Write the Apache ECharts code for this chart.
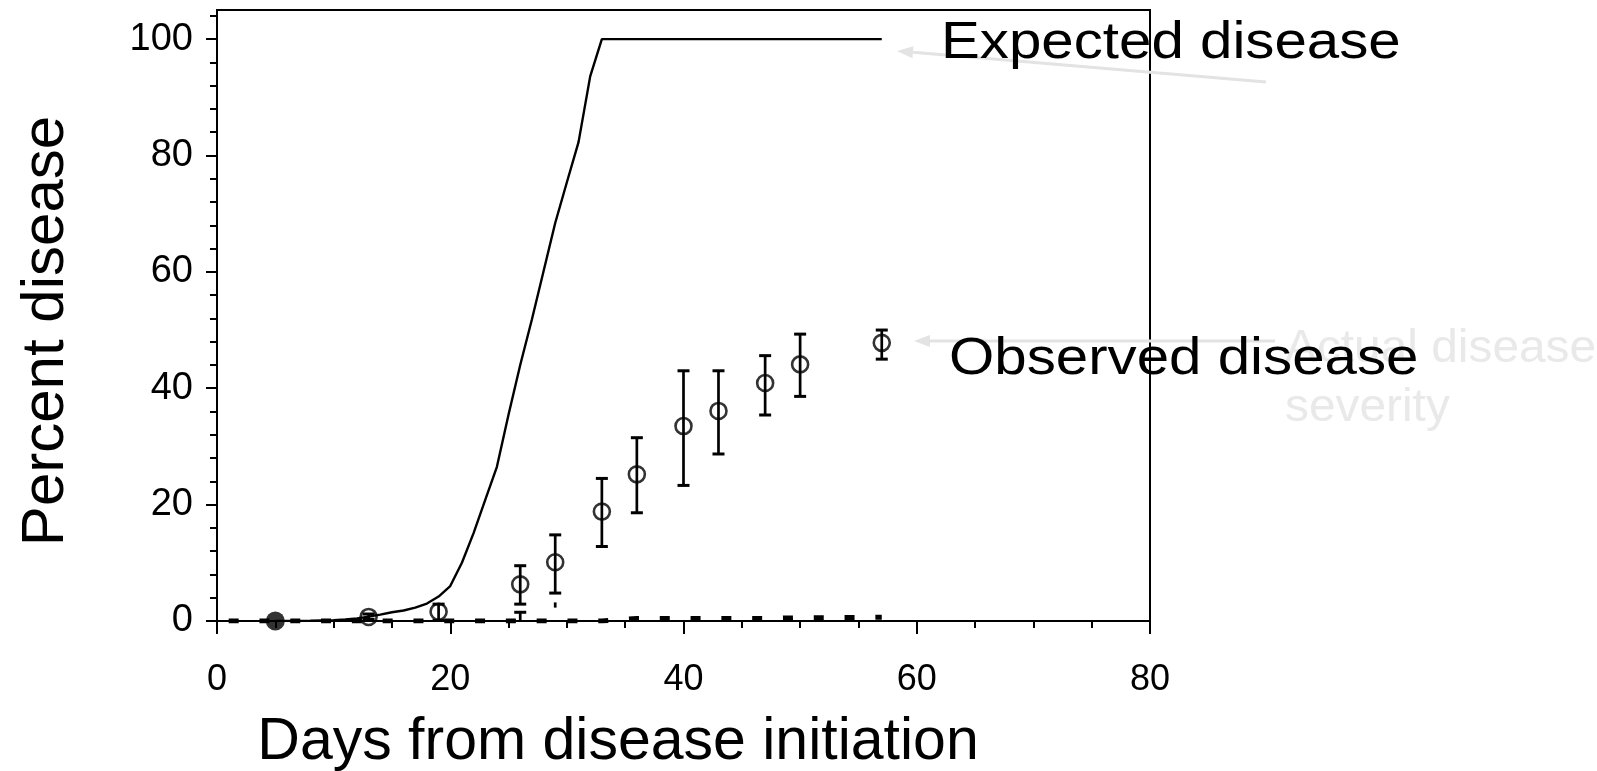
<!DOCTYPE html>
<html>
<head>
<meta charset="utf-8">
<title>Percent disease over time</title>
<script src="https://cdn.jsdelivr.net/npm/echarts@6.0.0/dist/echarts.min.js"></script>
<style>
  html, body { margin: 0; padding: 0; background: #ffffff; }
  #chart { width: 1597px; height: 771px; }
</style>
</head>
<body>
<div id="chart"></div>
<script>
// Expected disease progress (percent) by day from disease initiation
const expectedDays   = [5, 8, 10, 11, 12, 13, 14, 15, 16, 17, 18, 19, 20, 21, 22, 23, 24, 25, 26, 27, 28, 29, 30, 31, 32, 33, 57];
const expectedValues = [0, 0.05, 0.15, 0.25, 0.45, 0.75, 1.1, 1.5, 1.8, 2.3, 3.0, 4.2, 6.0, 10.0, 15.1, 20.8, 26.5, 35.5, 44.0, 51.8, 60.1, 68.4, 75.4, 82.3, 93.6, 100, 100];

// Observed disease: mean with error range at each assessment day
const observedDays = [13, 19, 26, 29, 33, 36, 40, 43, 47, 50, 57];
const observedMean = [0.7, 1.6, 6.3, 10.1, 18.8, 25.2, 33.5, 36.1, 40.9, 44.1, 47.8];
const observedLow  = [0.3, 0.1, 2.9, 4.8, 12.8, 18.6, 23.3, 28.7, 35.4, 38.6, 45.0];
const observedHigh = [1.2, 2.9, 9.5, 14.8, 24.5, 31.5, 43.0, 43.0, 45.6, 49.3, 50.0];

// Disease initiation point
const initiationDays   = [5];
const initiationValues = [0];

// Near-zero companion series, drawn as a heavy dashed line
const baselineDays   = [1, 13, 19, 26, 29, 33, 36, 40, 43, 47, 50, 57];
const baselineValues = [0, 0, 0, 0, 0, 0, 0.45, 0.45, 0.45, 0.45, 0.55, 0.65];
// Its error ranges (one capped at the top, one short segment)
const baselineErrCapped = [[26, 0, 1.5]];
const baselineErrPlain  = [[29, 2.3, 3.2]];

// Axis ticks and labels
const xMajorTicks = [0, 20, 40, 60, 80];
const xMinorTicks = [5, 10, 15, 25, 30, 35, 45, 50, 55, 65, 70, 75];
const yMajorTicks = [0, 20, 40, 60, 80, 100];
const yMinorTicks = [4, 8, 12, 16, 24, 28, 32, 36, 44, 48, 52, 56, 64, 68, 72, 76, 84, 88, 92, 96, 104];

const FONT = "'Liberation Sans', Arial, Helvetica, sans-serif";
const INK = '#000000';
const FAINT_TEXT = '#e9e9e9';
const FAINT_ARROW = '#e3e3e3';

const pairs = (xs, ys) => xs.map((x, i) => [x, ys[i]]);

// Vertical error bar with optional caps, placed through the axes' scales
function errorBarRenderer(capTop, capBottom) {
  return function (params, api) {
    const x = api.value(0);
    const lo = api.coord([x, api.value(1)]);
    const hi = api.coord([x, api.value(2)]);
    const half = 6;
    const children = [{
      type: 'line',
      shape: { x1: hi[0], y1: hi[1], x2: lo[0], y2: lo[1] },
      style: { stroke: INK, lineWidth: 2.7 }
    }];
    if (capTop) {
      children.push({ type: 'line', shape: { x1: hi[0] - half, y1: hi[1], x2: hi[0] + half, y2: hi[1] }, style: { stroke: INK, lineWidth: 3 } });
    }
    if (capBottom) {
      children.push({ type: 'line', shape: { x1: lo[0] - half, y1: lo[1], x2: lo[0] + half, y2: lo[1] }, style: { stroke: INK, lineWidth: 3 } });
    }
    return { type: 'group', children };
  };
}

// Pointer arrow (line plus filled head) for the annotations
function arrow(tail, tip, color) {
  const dx = tip[0] - tail[0], dy = tip[1] - tail[1];
  const len = Math.hypot(dx, dy);
  const ux = dx / len, uy = dy / len;
  const headLen = 16, headHalf = 6;
  const bx = tip[0] - ux * headLen, by = tip[1] - uy * headLen;
  return [
    { type: 'line', silent: true, z: 1,
      shape: { x1: tail[0], y1: tail[1], x2: bx, y2: by },
      style: { stroke: color, lineWidth: 3 } },
    { type: 'polygon', silent: true, z: 1,
      shape: { points: [tip, [bx - uy * headHalf, by + ux * headHalf], [bx + uy * headHalf, by - ux * headHalf]] },
      style: { fill: color } }
  ];
}

const chart = echarts.init(document.getElementById('chart'), null, { renderer: 'canvas' });

const axisCommon = {
  type: 'value',
  splitLine: { show: false },
};

chart.setOption({
  animation: false,
  backgroundColor: '#ffffff',
  grid: {
    left: 217, right: 447, top: 10, bottom: 150,
    show: true, borderColor: INK, borderWidth: 2, backgroundColor: 'transparent'
  },
  xAxis: [
    Object.assign({}, axisCommon, {
      min: 0, max: 80, position: 'bottom',
      axisLine: { show: true, onZero: false, lineStyle: { color: INK, width: 2 } },
      axisTick: { show: true, customValues: xMajorTicks, length: 13, lineStyle: { color: INK, width: 2 } },
      axisLabel: { show: true, customValues: xMajorTicks, margin: 41, color: INK, fontSize: 36, fontFamily: FONT }
    }),
    Object.assign({}, axisCommon, {
      min: 0, max: 80, position: 'bottom',
      axisLine: { show: false, onZero: false },
      axisTick: { show: true, customValues: xMinorTicks, length: 7, lineStyle: { color: INK, width: 2 } },
      axisLabel: { show: false }
    })
  ],
  yAxis: [
    Object.assign({}, axisCommon, {
      min: 0, max: 105, position: 'left',
      axisLine: { show: true, onZero: false, lineStyle: { color: INK, width: 2 } },
      axisTick: { show: true, customValues: yMajorTicks, length: 11, lineStyle: { color: INK, width: 2 } },
      axisLabel: { show: true, customValues: yMajorTicks, margin: 24, color: INK, fontSize: 38, fontFamily: FONT, padding: [9, 0, 0, 0] }
    }),
    Object.assign({}, axisCommon, {
      min: 0, max: 105, position: 'left',
      axisLine: { show: false, onZero: false },
      axisTick: { show: true, customValues: yMinorTicks, length: 7, lineStyle: { color: INK, width: 2 } },
      axisLabel: { show: false }
    })
  ],
  series: [
    {
      name: 'Baseline',
      type: 'line',
      data: pairs(baselineDays, baselineValues),
      symbol: 'none',
      silent: true,
      z: 3,
      lineStyle: { color: INK, width: 5, type: [10, 20.8], cap: 'butt' }
    },
    {
      name: 'Baseline error',
      type: 'custom',
      data: baselineErrCapped,
      encode: { x: 0, y: [1, 2] },
      renderItem: errorBarRenderer(true, false),
      silent: true,
      z: 3
    },
    {
      name: 'Baseline error segment',
      type: 'custom',
      data: baselineErrPlain,
      encode: { x: 0, y: [1, 2] },
      renderItem: errorBarRenderer(false, false),
      silent: true,
      z: 3
    },
    {
      name: 'Expected disease',
      type: 'line',
      data: pairs(expectedDays, expectedValues),
      symbol: 'none',
      silent: true,
      z: 4,
      lineStyle: { color: INK, width: 2.4 }
    },
    {
      name: 'Observed error',
      type: 'custom',
      data: observedDays.map((d, i) => [d, observedLow[i], observedHigh[i]]),
      encode: { x: 0, y: [1, 2] },
      renderItem: errorBarRenderer(true, true),
      silent: true,
      z: 5
    },
    {
      name: 'Observed disease',
      type: 'scatter',
      data: pairs(observedDays, observedMean),
      symbol: 'circle',
      symbolSize: 16,
      silent: true,
      z: 6,
      itemStyle: { color: 'rgba(255,255,255,0)', borderColor: INK, borderWidth: 2.6 }
    },
    {
      name: 'Initiation',
      type: 'scatter',
      data: pairs(initiationDays, initiationValues),
      symbol: 'circle',
      symbolSize: 19,
      silent: true,
      z: 6,
      itemStyle: { color: INK }
    }
  ],
  graphic: [
    ...arrow([1266, 82], [897, 51], FAINT_ARROW),
    ...arrow([1275, 341], [914, 341], FAINT_ARROW),
    { type: 'text', silent: true, z: 2, x: 1285, y: 349, scaleX: 1.04,
      style: { text: 'Actual disease', font: '46px ' + FONT, fill: FAINT_TEXT, textAlign: 'left', textVerticalAlign: 'middle' } },
    { type: 'text', silent: true, z: 2, x: 1285, y: 408, scaleX: 1.04,
      style: { text: 'severity', font: '46px ' + FONT, fill: FAINT_TEXT, textAlign: 'left', textVerticalAlign: 'middle' } },
    { type: 'text', silent: true, z: 10, x: 941, y: 44, scaleX: 1.12,
      style: { text: 'Expected disease', font: '52px ' + FONT, fill: INK, textAlign: 'left', textVerticalAlign: 'middle' } },
    { type: 'text', silent: true, z: 10, x: 949, y: 360, scaleX: 1.12,
      style: { text: 'Observed disease', font: '52px ' + FONT, fill: INK, textAlign: 'left', textVerticalAlign: 'middle' } },
    { type: 'text', silent: true, z: 10, x: 46, y: 331, rotation: Math.PI / 2,
      style: { text: 'Percent disease', font: '60px ' + FONT, fill: INK, textAlign: 'center', textVerticalAlign: 'middle' } },
    { type: 'text', silent: true, z: 10, x: 618, y: 743,
      style: { text: 'Days from disease initiation', font: '59px ' + FONT, fill: INK, textAlign: 'center', textVerticalAlign: 'middle' } }
  ]
});
</script>
</body>
</html>
